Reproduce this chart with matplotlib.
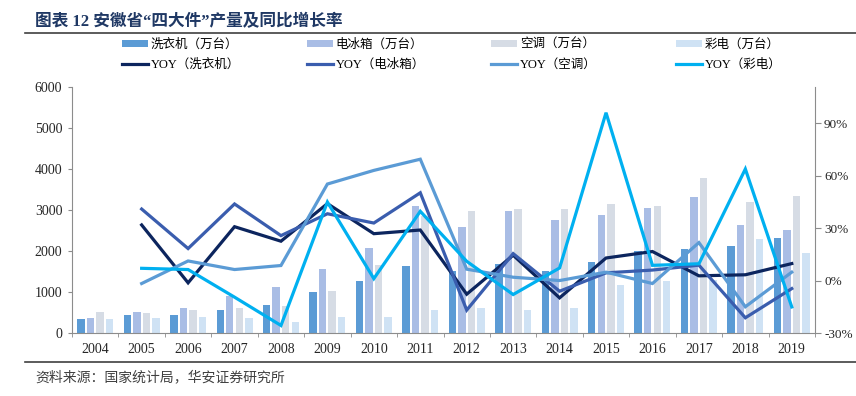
import matplotlib
matplotlib.use('Agg')
import matplotlib.pyplot as plt
import numpy as np
from matplotlib.ticker import FuncFormatter, MultipleLocator
from matplotlib.lines import Line2D

plt.rcParams['font.family'] = ['Liberation Serif', 'Noto Sans CJK SC']

years = [str(y) for y in range(2004, 2020)]
washer = [340, 440, 430, 560, 690, 1000, 1268, 1626, 1504, 1691, 1520, 1724, 2008, 2049, 2122, 2325]
fridge = [374, 510, 618, 894, 1130, 1553, 2073, 3098, 2577, 2967, 2756, 2870, 3057, 3325, 2626, 2504]
ac = [512, 500, 569, 602, 650, 1024, 1659, 2845, 2984, 3033, 3033, 3154, 3098, 3772, 3203, 3350]
tv = [350, 374, 398, 358, 260, 382, 398, 550, 605, 569, 602, 1179, 1276, 1290, 2285, 1943]

nan = np.nan
washer_yoy = [nan, 31.8, -1.3, 30.8, 22.5, 44.0, 26.8, 28.9, -7.8, 14.5, -9.9, 12.9, 16.6, 2.7, 3.3, 9.7]
fridge_yoy = [nan, 40.9, 18.3, 43.8, 25.7, 38.2, 32.9, 50.2, -16.9, 15.4, -6.1, 4.4, 6.0, 8.8, -21.3, -4.6]
ac_yoy = [nan, -1.7, 11.2, 6.3, 8.6, 55.2, 63.0, 69.4, 6.5, 1.9, 0.0, 4.8, -1.7, 21.7, -15.0, 4.8]
tv_yoy = [nan, 7.0, 6.3, -9.5, -25.7, 44.9, 1.1, 39.6, 11.0, -8.0, 7.2, 96.0, 8.7, 9.6, 63.8, -15.1]

bar_labels = ['洗衣机（万台）', '电冰箱（万台）', '空调（万台）', '彩电（万台）']
line_labels = ['YOY（洗衣机）', 'YOY（电冰箱）', 'YOY（空调）', 'YOY（彩电）']
bar_colors = ['#5B9BD5', '#A9BDE5', '#D6DCE5', '#CFE2F4']
line_colors = ['#0C255E', '#3A5DAE', '#5B9BD5', '#00B0F0']

W, H = 856, 396
fig = plt.figure(figsize=(W / 100, H / 100), dpi=100)
ax = fig.add_axes([72 / W, 63 / H, 743 / W, 246 / H])

x = np.arange(len(years))
bw = 0.16
step = 0.205
bar_series = [washer, fridge, ac, tv]
bars = []
for i, (vals, c) in enumerate(zip(bar_series, bar_colors)):
    b = ax.bar(x + (i - 1.5) * step, vals, width=bw, color=c, zorder=2)
    bars.append(b)

ax.set_xlim(-0.5, len(years) - 0.5)
ax.set_ylim(0, 6000)
ax.yaxis.set_major_locator(MultipleLocator(1000))

ax2 = ax.twinx()
line_series = [washer_yoy, fridge_yoy, ac_yoy, tv_yoy]
lines = []
for vals, c in zip(line_series, line_colors):
    l, = ax2.plot(x, vals, color=c, lw=2.3, solid_joinstyle='miter', zorder=3)
    lines.append(l)
ax2.set_ylim(-30, 110.7)
ax2.set_yticks([-30, 0, 30, 60, 90])
ax2.yaxis.set_major_formatter(FuncFormatter(lambda v, p: f'{v:.0f}%'))

spine_c = '#8C8C8C'
for a in (ax, ax2):
    a.spines['top'].set_visible(False)
ax.spines['right'].set_visible(False)
ax2.spines['left'].set_visible(False)
ax2.spines['bottom'].set_visible(False)
ax.spines['left'].set_color(spine_c)
ax.spines['bottom'].set_color(spine_c)
ax2.spines['right'].set_color(spine_c)

ax.set_xticks(x)
ax.set_xticklabels(years)
ax.set_xticks(np.arange(-0.5, len(years), 1), minor=True)
ax.tick_params(axis='x', which='major', length=0, pad=7, labelsize=10, labelcolor='#262626')
ax.tick_params(axis='x', which='minor', length=3, color=spine_c, direction='out')
ax.tick_params(axis='y', which='major', length=3, color=spine_c, pad=4, labelsize=10, labelcolor='#262626')
ax2.tick_params(axis='y', which='major', length=4, color=spine_c, pad=2.5, labelsize=9.5, labelcolor='#262626')

col_x = [122, 307, 491, 676]
for i in range(4):
    fig.legend([bars[i], lines[i]], [bar_labels[i], line_labels[i]],
               loc='center left', bbox_to_anchor=(col_x[i] / W, 1 - 55.0 / H),
               frameon=False, fontsize=9, handlelength=2.1, handleheight=0.45,
               handletextpad=0.2, borderpad=0, borderaxespad=0, labelspacing=0.65)

fig.text(35 / W, 1 - 21.7 / H, '图表 12 安徽省“四大件”产量及同比增长率', fontsize=12,
         fontweight='bold', color='#1F3864', va='center', ha='left')
fig.add_artist(Line2D([25 / W, 1], [1 - 33.3 / H] * 2, color='#404040', lw=1.2))
fig.add_artist(Line2D([25 / W, 1], [1 - 362 / H] * 2, color='#404040', lw=1.2))
fig.text(35 / W, 1 - 377 / H, '资料来源：国家统计局，华安证券研究所', fontsize=10,
         color='#404040', va='center', ha='left')

fig.savefig('out.png', dpi=100)
